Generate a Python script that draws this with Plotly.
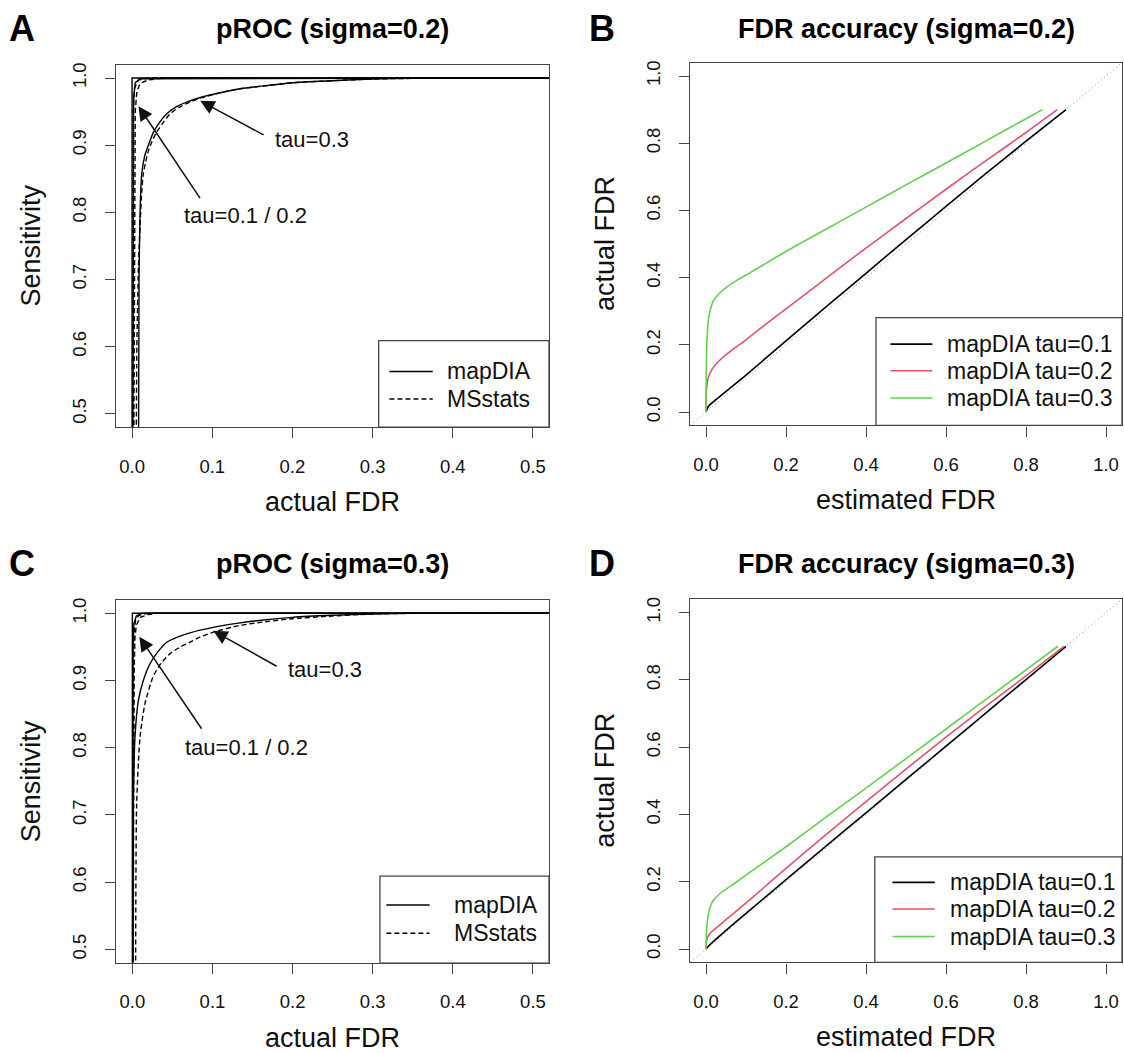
import plotly.graph_objects as go

W, H = 1124, 1053
FONT = "Liberation Sans, Arial, Helvetica, sans-serif"
AX = "#444444"

# ---------------- data ----------------
# Panel A: pROC (sigma=0.2)
A_map_t1_x = [0.0, 0.0, 0.6]
A_map_t1_y = [0.40, 1.0, 1.0]
A_ms_t1_x = [0.001, 0.0015, 0.003, 0.008, 0.02, 0.6]
A_ms_t1_y = [0.40, 0.95, 0.985, 0.997, 1.0, 1.0]
A_map_t2_x = [0.001, 0.0015, 0.002, 0.004, 0.01, 0.6]
A_map_t2_y = [0.40, 0.90, 0.97, 0.993, 0.999, 1.0]
A_ms_t2_x = [0.002, 0.003, 0.004, 0.006, 0.01, 0.02, 0.04, 0.6]
A_ms_t2_y = [0.40, 0.85, 0.95, 0.98, 0.992, 0.997, 1.0, 1.0]
A_map_t3_x = [0.008, 0.0087, 0.010, 0.012, 0.016, 0.0204, 0.0266, 0.035, 0.043, 0.055,
              0.068, 0.085, 0.11, 0.135, 0.17, 0.2, 0.25, 0.3, 0.35, 0.4, 0.6]
A_map_t3_y = [0.40, 0.70, 0.80, 0.857, 0.885, 0.90, 0.919, 0.935, 0.9465, 0.957,
              0.964, 0.971, 0.978, 0.984, 0.989, 0.993, 0.996, 0.9985, 0.9995, 1.0, 1.0]
A_ms_t3_x = [0.005, 0.006, 0.008, 0.010, 0.012, 0.014, 0.017, 0.020, 0.025, 0.031, 0.039, 0.047,
             0.058, 0.072, 0.085, 0.11, 0.135, 0.17, 0.2, 0.25, 0.3, 0.35, 0.4, 0.6]
A_ms_t3_y = [0.40, 0.60, 0.72, 0.78, 0.83, 0.857, 0.875, 0.89, 0.906, 0.92, 0.934, 0.946,
             0.956, 0.964, 0.970, 0.978, 0.984, 0.989, 0.993, 0.996, 0.9985, 0.9995, 1.0, 1.0]

# Panel C: pROC (sigma=0.3)
C_map_t1_x = [0.0, 0.0, 0.6]
C_map_t1_y = [0.40, 1.0, 1.0]
C_ms_t1_x = [0.0005, 0.001, 0.002, 0.004, 0.008, 0.02, 0.6]
C_ms_t1_y = [0.40, 0.90, 0.97, 0.99, 0.997, 1.0, 1.0]
C_map_t2_x = [0.0005, 0.001, 0.002, 0.005, 0.012, 0.6]
C_map_t2_y = [0.40, 0.95, 0.985, 0.996, 1.0, 1.0]
C_ms_t2_x = [0.001, 0.0012, 0.002, 0.0033, 0.005, 0.0096, 0.02, 0.03, 0.6]
C_ms_t2_y = [0.40, 0.767, 0.90, 0.965, 0.982, 0.994, 0.998, 1.0, 1.0]
C_map_t3_x = [0.0005, 0.0012, 0.0033, 0.0075, 0.0137, 0.022, 0.032, 0.043, 0.057, 0.072,
              0.101, 0.13, 0.155, 0.2, 0.25, 0.3, 0.35, 0.4, 0.6]
C_map_t3_y = [0.40, 0.717, 0.816, 0.87, 0.90, 0.925, 0.943, 0.957, 0.965, 0.971,
              0.979, 0.985, 0.989, 0.994, 0.997, 0.999, 1.0, 1.0, 1.0]
C_ms_t3_x = [0.004, 0.0054, 0.0096, 0.0158, 0.026, 0.036, 0.047, 0.06, 0.072, 0.085, 0.101,
             0.134, 0.17, 0.2, 0.25, 0.3, 0.35, 0.4, 0.6]
C_ms_t3_y = [0.40, 0.717, 0.816, 0.866, 0.906, 0.926, 0.94, 0.95, 0.957, 0.965, 0.972,
             0.982, 0.988, 0.992, 0.996, 0.999, 1.0, 1.0, 1.0]

# Panel B: FDR accuracy (sigma=0.2)  (estimated FDR -> actual FDR)
B_t1_x = [0, 0.005, 0.01, 0.035, 0.1, 0.2, 0.3, 0.4, 0.5, 0.6, 0.7, 0.8, 0.9]
B_t1_y = [0, 0.015, 0.022, 0.047, 0.11, 0.212, 0.313, 0.413, 0.513, 0.612, 0.71, 0.806, 0.9]
B_t2_x = [0, 0.0005, 0.0017, 0.005, 0.015, 0.035, 0.06, 0.1, 0.15, 0.2, 0.3, 0.4, 0.5,
          0.6, 0.7, 0.8, 0.878]
B_t2_y = [0, 0.045, 0.075, 0.10, 0.127, 0.155, 0.18, 0.215, 0.262, 0.307, 0.398, 0.488, 0.576,
          0.663, 0.748, 0.832, 0.9]
B_t3_x = [0, 0.0003, 0.001, 0.002, 0.004, 0.006, 0.01, 0.018, 0.035, 0.055, 0.077, 0.118,
          0.2, 0.3, 0.4, 0.5, 0.6, 0.7, 0.8, 0.841]
B_t3_y = [0, 0.08, 0.15, 0.20, 0.245, 0.275, 0.30, 0.33, 0.355, 0.375, 0.392, 0.42,
          0.478, 0.544, 0.61, 0.676, 0.741, 0.807, 0.873, 0.9]

# Panel D: FDR accuracy (sigma=0.3)
D_t1_x = [0, 0.01, 0.035, 0.1, 0.2, 0.3, 0.4, 0.5, 0.6, 0.7, 0.8, 0.9]
D_t1_y = [0, 0.013, 0.04, 0.106, 0.206, 0.306, 0.405, 0.504, 0.603, 0.702, 0.801, 0.9]
D_t2_x = [0, 0.001, 0.006, 0.015, 0.035, 0.07, 0.118, 0.2, 0.3, 0.4, 0.5, 0.6, 0.7, 0.8, 0.895]
D_t2_y = [0, 0.022, 0.04, 0.052, 0.072, 0.107, 0.155, 0.24, 0.34, 0.438, 0.535, 0.63, 0.722, 0.812, 0.9]
D_t3_x = [0, 0.0005, 0.002, 0.006, 0.012, 0.018, 0.035, 0.077, 0.118, 0.16, 0.2, 0.3, 0.4,
          0.5, 0.6, 0.7, 0.8, 0.88]
D_t3_y = [0, 0.03, 0.064, 0.104, 0.13, 0.144, 0.165, 0.200, 0.235, 0.27, 0.304, 0.392, 0.478,
          0.566, 0.654, 0.742, 0.83, 0.9]

diag_x = [-0.1, 1.1]
diag_y = [-0.1, 1.1]

roc_xticks = [0.0, 0.1, 0.2, 0.3, 0.4, 0.5]
roc_yticks = [0.5, 0.6, 0.7, 0.8, 0.9, 1.0]
fdr_ticks = [0.0, 0.2, 0.4, 0.6, 0.8, 1.0]

titles = ["pROC (sigma=0.2)", "FDR accuracy (sigma=0.2)", "pROC (sigma=0.3)", "FDR accuracy (sigma=0.3)"]
letters = ["A", "B", "C", "D"]
roc_legend = ["mapDIA", "MSstats"]
fdr_legend = ["mapDIA tau=0.1", "mapDIA tau=0.2", "mapDIA tau=0.3"]
tau_colors = ["#000000", "#DF536B", "#61D04F"]

# ---------------- figure ----------------
fig = go.Figure()

def px_x(p):
    return p / W

def px_y(p):
    return 1 - p / H

# panel boxes in pixels: left, right, top, bottom
boxes = {
    1: (115.7, 549.0, 62.7, 426.0),
    2: (690.0, 1122.0, 60.7, 424.3),
    3: (116.0, 549.0, 599.0, 962.7),
    4: (690.0, 1122.0, 598.3, 962.3),
}

def line_trace(x, y, ax, dash="solid", color="#000000", width=1.4, smooth=False):
    xa = "x" if ax == 1 else f"x{ax}"
    ya = "y" if ax == 1 else f"y{ax}"
    ln = dict(color=color, width=width, dash=dash)
    if smooth:
        ln.update(shape="spline", smoothing=0.6)
    return go.Scatter(x=x, y=y, mode="lines", xaxis=xa, yaxis=ya, showlegend=False,
                      line=ln, hoverinfo="skip")

DASH = "5px,3px"
# Panel A
for xs, ys, d, sm in [(A_map_t1_x, A_map_t1_y, "solid", False), (A_ms_t1_x, A_ms_t1_y, DASH, False),
                      (A_map_t2_x, A_map_t2_y, "solid", False), (A_ms_t2_x, A_ms_t2_y, DASH, False),
                      (A_map_t3_x, A_map_t3_y, "solid", True), (A_ms_t3_x, A_ms_t3_y, DASH, True)]:
    fig.add_trace(line_trace(xs, ys, 1, d, smooth=sm))
# Panel C
for xs, ys, d, sm in [(C_map_t1_x, C_map_t1_y, "solid", False), (C_ms_t1_x, C_ms_t1_y, DASH, False),
                      (C_map_t2_x, C_map_t2_y, "solid", False), (C_ms_t2_x, C_ms_t2_y, DASH, False),
                      (C_map_t3_x, C_map_t3_y, "solid", True), (C_ms_t3_x, C_ms_t3_y, DASH, True)]:
    fig.add_trace(line_trace(xs, ys, 3, d, smooth=sm))
# Panels B and D
for ax, series in [(2, [(B_t1_x, B_t1_y), (B_t2_x, B_t2_y), (B_t3_x, B_t3_y)]),
                   (4, [(D_t1_x, D_t1_y), (D_t2_x, D_t2_y), (D_t3_x, D_t3_y)])]:
    fig.add_trace(line_trace(diag_x, diag_y, ax, "1px,3px", "#8a8a8a", 1))
    for (xs, ys), c in zip(series, tau_colors):
        fig.add_trace(line_trace(xs, ys, ax, "solid", c, 1.6, smooth=True))

axis_common = dict(showgrid=False, zeroline=False, showline=True, mirror=True,
                   linecolor=AX, linewidth=1.3, ticks="outside", ticklen=10,
                   tickwidth=1.2, tickcolor=AX,
                   tickfont=dict(family=FONT, size=18.5, color="#111111"))

layout_axes = {}
for i in range(1, 5):
    l, r, t, b = boxes[i]
    xk = "xaxis" if i == 1 else f"xaxis{i}"
    yk = "yaxis" if i == 1 else f"yaxis{i}"
    xa = "x" if i == 1 else f"x{i}"
    ya = "y" if i == 1 else f"y{i}"
    if i in (1, 3):
        xr, yr = [-0.0204, 0.52], [0.48, 1.02]
        xt, yt = roc_xticks, roc_yticks
    else:
        xr, yr = [-0.04, 1.04], [-0.04, 1.04]
        xt, yt = fdr_ticks, fdr_ticks
    layout_axes[xk] = dict(axis_common, domain=[px_x(l), px_x(r)], range=xr, anchor=ya,
                           tickvals=xt, ticktext=[f"{v:.1f}" for v in xt], ticklabelstandoff=12)
    layout_axes[yk] = dict(axis_common, domain=[px_y(b), px_y(t)], range=yr, anchor=xa,
                           tickvals=yt, ticktext=[f"{v:.1f}" for v in yt], tickangle=-90,
                           ticklabelstandoff=11)

fig.update_layout(**layout_axes)

annotations = []
shapes = []

# titles, panel letters, axis titles
for i in range(1, 5):
    l, r, t, b = boxes[i]
    cx = (l + r) / 2
    cy = (t + b) / 2
    ty = 27 if i <= 2 else 563
    annotations.append(dict(xref="paper", yref="paper", x=px_x(cx), y=px_y(ty),
                            text=f"<b>{titles[i-1]}</b>", showarrow=False,
                            xanchor="center", yanchor="middle",
                            font=dict(family=FONT, size=27, color="#000000")))
    lx = 22 if i in (1, 3) else 602
    annotations.append(dict(xref="paper", yref="paper", x=px_x(lx), y=px_y(ty),
                            text=f"<b>{letters[i-1]}</b>", showarrow=False,
                            xanchor="center", yanchor="middle",
                            font=dict(family=FONT, size=36, color="#000000")))
    xtitle = "actual FDR" if i in (1, 3) else "estimated FDR"
    ytitle = "Sensitivity" if i in (1, 3) else "actual FDR"
    annotations.append(dict(xref="paper", yref="paper", x=px_x(cx), y=px_y(b + 75),
                            text=xtitle, showarrow=False, xanchor="center", yanchor="middle",
                            font=dict(family=FONT, size=27, color="#111111")))
    annotations.append(dict(xref="paper", yref="paper", x=px_x(l - 85), y=px_y(cy),
                            text=ytitle, showarrow=False, xanchor="center", yanchor="middle",
                            textangle=-90, font=dict(family=FONT, size=27, color="#111111")))

# pROC arrows and labels
roc_arrows = {
    1: dict(t3_head=(0.085, 0.966), t3_tail=(0.166, 0.914), t3_text=(0.224, 0.908),
            t12_head=(0.008, 0.958), t12_tail=(0.086, 0.819), t12_text=(0.141, 0.795)),
    3: dict(t3_head=(0.101, 0.974), t3_tail=(0.182, 0.92), t3_text=(0.240, 0.917),
            t12_head=(0.0087, 0.965), t12_tail=(0.0877, 0.826), t12_text=(0.1426, 0.80)),
}
for ax, d in roc_arrows.items():
    xa = "x" if ax == 1 else f"x{ax}"
    ya = "y" if ax == 1 else f"y{ax}"
    for key, label in [("t3", "tau=0.3"), ("t12", "tau=0.1 / 0.2")]:
        hx, hy = d[key + "_head"]
        tx, ty = d[key + "_tail"]
        annotations.append(dict(xref=xa, yref=ya, axref=xa, ayref=ya, x=hx, y=hy, ax=tx, ay=ty,
                                text="", showarrow=True, arrowhead=2, arrowsize=1.9,
                                arrowwidth=1.5, arrowcolor="#111111", standoff=0, startstandoff=0))
        px_, py_ = d[key + "_text"]
        annotations.append(dict(xref=xa, yref=ya, x=px_, y=py_, text=label, showarrow=False,
                                xanchor="center", yanchor="middle",
                                font=dict(family=FONT, size=22, color="#111111")))

# legends (drawn as boxes with sample lines)
roc_leg = {1: dict(x0=0.3076, y1=0.609, ys=[0.563, 0.522], lx=(0.321, 0.375), tx=0.39),
           3: dict(x0=0.309, y1=0.609, ys=[0.566, 0.524], lx=(0.317, 0.371), tx=0.399)}
for ax, d in roc_leg.items():
    xa = "x" if ax == 1 else f"x{ax}"
    ya = "y" if ax == 1 else f"y{ax}"
    shapes.append(dict(type="rect", xref=xa, yref=ya, x0=d["x0"], x1=0.52, y0=0.48, y1=d["y1"],
                       line=dict(color=AX, width=1.3), fillcolor="rgba(0,0,0,0)"))
    for yv, name, dash in zip(d["ys"], roc_legend, ["solid", DASH]):
        shapes.append(dict(type="line", xref=xa, yref=ya, x0=d["lx"][0], x1=d["lx"][1],
                           y0=yv, y1=yv, line=dict(color="#000000", width=1.4, dash=dash)))
        annotations.append(dict(xref=xa, yref=ya, x=d["tx"], y=yv, text=name, showarrow=False,
                                xanchor="left", yanchor="middle",
                                font=dict(family=FONT, size=23, color="#111111")))

fdr_leg = {2: dict(x0=0.425, y1=0.281, ys=[0.202, 0.123, 0.042], lx=(0.461, 0.566), tx=0.597),
           4: dict(x0=0.422, y1=0.274, ys=[0.198, 0.119, 0.037], lx=(0.466, 0.572), tx=0.604)}
for ax, d in fdr_leg.items():
    xa, ya = f"x{ax}", f"y{ax}"
    shapes.append(dict(type="rect", xref=xa, yref=ya, x0=d["x0"], x1=1.04, y0=-0.04, y1=d["y1"],
                       line=dict(color=AX, width=1.3), fillcolor="rgba(0,0,0,0)"))
    for yv, name, c in zip(d["ys"], fdr_legend, tau_colors):
        shapes.append(dict(type="line", xref=xa, yref=ya, x0=d["lx"][0], x1=d["lx"][1],
                           y0=yv, y1=yv, line=dict(color=c, width=1.6)))
        annotations.append(dict(xref=xa, yref=ya, x=d["tx"], y=yv, text=name, showarrow=False,
                                xanchor="left", yanchor="middle",
                                font=dict(family=FONT, size=23, color="#111111")))

fig.update_layout(width=W, height=H, margin=dict(l=0, r=0, t=0, b=0),
                  paper_bgcolor="white", plot_bgcolor="white",
                  annotations=annotations, shapes=shapes, showlegend=False,
                  font=dict(family=FONT))

fig.write_html("out.html", config={"displayModeBar": False},
               post_script="document.body.style.margin='0px';document.body.style.padding='0px';"
                           "document.documentElement.style.overflow='hidden';")
